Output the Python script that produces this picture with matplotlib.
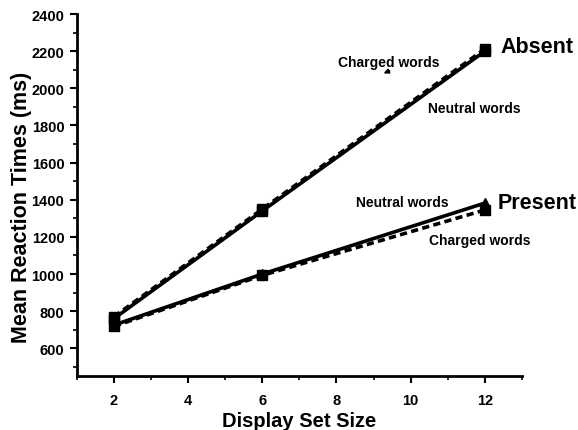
import matplotlib.pyplot as plt
from matplotlib.ticker import MultipleLocator

plt.rcParams['font.family'] = ['Liberation Sans', 'DejaVu Sans']
plt.rcParams['font.weight'] = 'bold'

set_size = [2, 6, 12]
absent_neutral = [760, 1340, 2200]
absent_charged = [770, 1350, 2212]
present_neutral = [725, 1000, 1382]
present_charged = [718, 993, 1345]

fig = plt.figure(figsize=(5.78, 4.31), dpi=100)
ax = fig.add_axes([0.133, 0.125, 0.77, 0.84])

ax.plot(set_size, absent_neutral, color='black', lw=2.6, marker='s', ms=7)
ax.plot(set_size, absent_charged, color='black', lw=2.6, ls=(0, (2, 1.2)), marker='s', ms=7)
ax.plot(set_size, present_neutral, color='black', lw=2.6, marker='^', ms=7)
ax.plot(set_size, present_charged, color='black', lw=2.6, ls=(0, (2, 1.2)), marker='s', ms=7)

ax.text(12.43, 2225, 'Absent', fontsize=15.5, fontweight='bold', va='center')
ax.text(12.35, 1383, 'Present', fontsize=15.5, fontweight='bold', va='center')
ax.text(8.04, 2144, 'Charged words', fontsize=10, fontweight='bold', va='center')
ax.text(10.46, 1896, 'Neutral words', fontsize=10, fontweight='bold', va='center')
ax.text(8.52, 1388, 'Neutral words', fontsize=10, fontweight='bold', va='center')
ax.text(10.49, 1183, 'Charged words', fontsize=10, fontweight='bold', va='center')
ax.annotate('', xy=(9.2, 2075), xytext=(9.5, 2100),
            arrowprops=dict(arrowstyle='-|>', color='black', lw=1.2, mutation_scale=7))

ax.set_xlim(1, 13)
ax.set_ylim(450, 2400)
ax.xaxis.set_major_locator(MultipleLocator(2))
ax.xaxis.set_minor_locator(MultipleLocator(1))
ax.yaxis.set_major_locator(MultipleLocator(200))
ax.yaxis.set_minor_locator(MultipleLocator(100))
ax.set_xticks([2, 4, 6, 8, 10, 12])

for s in ['top', 'right']:
    ax.spines[s].set_visible(False)
for s in ['left', 'bottom']:
    ax.spines[s].set_linewidth(2)

ax.tick_params(which='major', direction='out', length=5, width=1.5, labelsize=10.5, pad=4)
ax.tick_params(which='minor', direction='out', length=3, width=1.2)
ax.tick_params(axis='x', pad=7)
for lab in ax.get_xticklabels() + ax.get_yticklabels():
    lab.set_fontweight('bold')

ax.set_xlabel('Display Set Size', fontsize=14.5, fontweight='bold', labelpad=3)
ax.set_ylabel('Mean Reaction Times (ms)', fontsize=15.5, fontweight='bold')
ax.yaxis.set_label_coords(-0.10, 0.47)

fig.savefig('out.png', dpi=100)
